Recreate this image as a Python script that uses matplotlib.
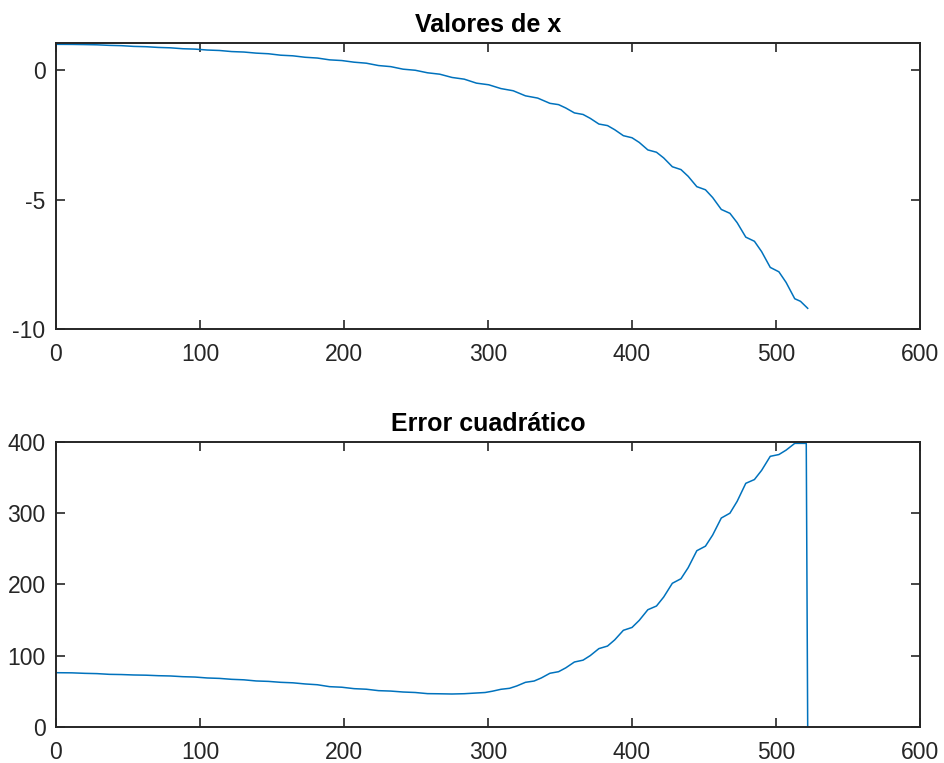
import matplotlib
matplotlib.use('Agg')
import matplotlib.pyplot as plt

plt.rcParams['font.family'] = ['Liberation Sans', 'DejaVu Sans']
plt.rcParams['axes.unicode_minus'] = False

# valores de x
x_top = [0, 11, 20, 28.5, 37, 45.5, 54, 62.5, 71, 79.5, 88, 96.5, 105, 113.5,
         122, 130.5, 139, 147.5, 156, 164.5, 173, 181.5, 190, 198.5, 207, 215.5,
         224, 232.5, 241, 249.5, 258, 266.5, 275, 283.5, 292, 300.5, 309, 317.5,
         326, 334.5, 343, 349, 354, 360, 366, 371, 377, 383, 388, 394, 400, 405,
         411, 417, 422, 428, 434, 439, 445, 451, 456, 462, 468, 473, 479, 485,
         490, 496, 502, 507, 513, 517, 522]
y_top = [1.00, 0.997, 0.99, 0.981, 0.96, 0.948, 0.92, 0.908, 0.88, 0.865, 0.83,
         0.815, 0.78, 0.762, 0.72, 0.702, 0.66, 0.636, 0.58, 0.556, 0.50, 0.47,
         0.40, 0.373, 0.31, 0.271, 0.18, 0.138, 0.04, -0.002, -0.10, -0.154,
         -0.28, -0.346, -0.50, -0.563, -0.71, -0.794, -0.99, -1.077, -1.28,
         -1.33, -1.46, -1.65, -1.71, -1.86, -2.08, -2.14, -2.30, -2.53, -2.61,
         -2.79, -3.08, -3.17, -3.39, -3.73, -3.84, -4.10, -4.50, -4.62, -4.92,
         -5.38, -5.53, -5.89, -6.45, -6.61, -7.01, -7.62, -7.79, -8.20, -8.83,
         -8.93, -9.20]

# error cuadratico
x_bot = [0, 11, 20, 28.5, 37, 45.5, 54, 62.5, 71, 79.5, 88, 96.5, 105, 113.5,
         122, 130.5, 139, 147.5, 156, 164.5, 173, 181.5, 190, 198.5, 207, 215.5,
         224, 232.5, 241, 249.5, 258, 266.5, 275, 283.5, 292, 298, 303, 309, 315,
         320, 326, 332, 337, 343, 349, 354, 360, 366, 371, 377, 383, 388, 394,
         400, 405, 411, 417, 422, 428, 434, 439, 445, 451, 456, 462, 468, 473,
         479, 485, 490, 496, 502, 507, 513, 521, 522]
y_bot = [76.2, 76.0, 75.3, 74.9, 73.9, 73.6, 73.0, 72.7, 72.0, 71.6, 70.6, 70.1,
         68.8, 68.2, 66.9, 66.2, 64.6, 64.0, 62.7, 62.0, 60.4, 59.3, 56.6, 55.8,
         53.8, 53.0, 51.0, 50.4, 49.1, 48.4, 46.8, 46.6, 46.3, 46.7, 47.7, 48.4,
         50.2, 52.9, 54.3, 57.6, 62.7, 64.5, 68.8, 75.4, 77.6, 83.0, 91.2, 93.8,
         100.2, 110.0, 113.6, 122.3, 135.7, 139.7, 149.6, 164.6, 169.8, 182.4,
         201.7, 208.1, 223.6, 247.4, 253.8, 269.4, 293.3, 300.1, 316.7, 342.0,
         347.3, 360.2, 379.9, 382.4, 388.6, 398.1, 398.1, 0]

xticks = [0, 100, 200, 300, 400, 500, 600]
yticks_top = [-10, -5, 0]
yticks_bot = [0, 100, 200, 300, 400]

line_color = '#0072BD'
axis_color = '#262626'

fig = plt.figure(figsize=(9.44, 7.63), dpi=100)
ax1 = fig.add_axes([0.0593, 0.5688, 0.9153, 0.3748])
ax2 = fig.add_axes([0.0593, 0.0472, 0.9153, 0.3735])

def style(ax, yt):
    ax.set_xlim(0, 600)
    ax.set_xticks(xticks)
    ax.set_yticks(yt)
    ax.tick_params(direction='in', length=6.5, width=1.2, top=True, right=True,
                   colors=axis_color, labelsize=16.5)
    ax.tick_params(axis='x', pad=10)
    ax.tick_params(axis='y', pad=7.5)
    for s in ax.spines.values():
        s.set_linewidth(1.4)
        s.set_color(axis_color)

ax1.plot(x_top, y_top, color=line_color, lw=1.1)
style(ax1, yticks_top)
ax1.set_ylim(-10, 1.05)
ax1.set_title('Valores de x', fontsize=18, fontweight='bold', pad=8)

ax2.plot(x_bot, y_bot, color=line_color, lw=1.1)
style(ax2, yticks_bot)
ax2.set_ylim(0, 400)
ax2.set_title('Error cuadrático', fontsize=18, fontweight='bold', pad=8)

fig.savefig('out.png', dpi=100)
